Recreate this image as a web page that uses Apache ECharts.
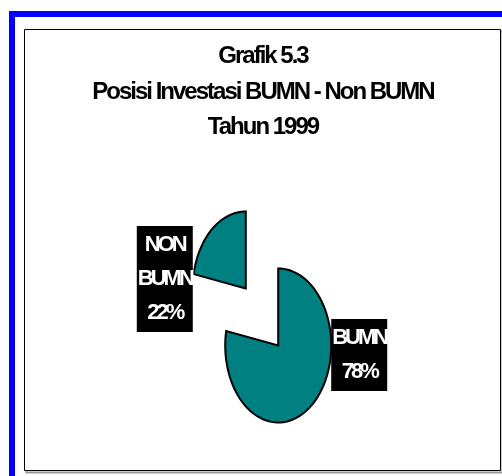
<!DOCTYPE html>
<html>
<head>
<meta charset="utf-8">
<script src="https://cdn.jsdelivr.net/npm/echarts@6/dist/echarts.min.js"></script>
<style>
  html, body { margin: 0; padding: 0; background: #fff; }
  #chart { width: 502px; height: 476px; }
</style>
</head>
<body>
<div id="chart"></div>
<script>
const titleLines = ['Grafik 5.3', 'Posisi Investasi BUMN - Non BUMN', 'Tahun 1999'];
const categories = ['BUMN', 'NON BUMN'];
const shares = [78, 22];

const FONT = "'Liberation Sans', Arial, sans-serif";
const TEAL = '#008080';
const EXPLODE = 0.48; // in radius units

// the original was typeset very tight, squeeze the glyphs together
(function () {
  const proto = CanvasRenderingContext2D.prototype;
  if (!('letterSpacing' in proto)) return;
  const fill = proto.fillText;
  const measure = proto.measureText;
  const spacing = f => !/bold/.test(f) ? '0px' : (/22px/.test(f) ? '-3px' : '-2px');
  proto.fillText = function (t, x, y, w) {
    this.letterSpacing = spacing(this.font);
    return w === undefined ? fill.call(this, t, x, y) : fill.call(this, t, x, y, w);
  };
  proto.measureText = function (t) {
    this.letterSpacing = spacing(this.font);
    return measure.call(this, t);
  };
})();

const total = shares.reduce((a, b) => a + b, 0);

function renderSlice(params, api) {
  const idx = params.dataIndex;
  let before = 0;
  for (let j = 0; j < idx; j++) before += shares[j];
  // clockwise from 12 o'clock
  const a0 = Math.PI / 2 - before / total * 2 * Math.PI;
  const a1 = Math.PI / 2 - (before + api.value(0)) / total * 2 * Math.PI;
  const mid = (a0 + a1) / 2;
  const cx = EXPLODE * Math.cos(mid);
  const cy = EXPLODE * Math.sin(mid);

  const pts = [api.coord([cx, cy])];
  const steps = 90;
  for (let k = 0; k <= steps; k++) {
    const a = a0 + (a1 - a0) * k / steps;
    pts.push(api.coord([cx + Math.cos(a), cy + Math.sin(a)]));
  }

  const right = Math.cos(mid) >= 0;
  const anchor = api.coord([cx + (right ? 1 : -1), cy + 0.16 * Math.sin(mid)]);
  const lines = categories[idx].split(' ').concat([api.value(0) + '%']);

  return {
    type: 'group',
    children: [
      {
        type: 'polygon',
        shape: { points: pts },
        style: { fill: TEAL, stroke: '#000', lineWidth: 2, lineJoin: 'miter' }
      },
      {
        type: 'text',
        x: anchor[0],
        y: anchor[1],
        style: {
          text: lines.map(s => '{t|' + s + '}').join('\n'),
          align: right ? 'left' : 'right',
          verticalAlign: 'middle',
          backgroundColor: '#000',
          padding: [2, 1],
          rich: {
            t: {
              align: 'center',
              fill: '#fff',
              fontFamily: FONT,
              fontWeight: 'bold',
              fontSize: 22,
              lineHeight: 34
            }
          }
        }
      }
    ]
  };
}

const chart = echarts.init(document.getElementById('chart'));

chart.setOption({
  backgroundColor: '#fff',
  animation: false,
  grid: { left: 156, top: 163, width: 212, height: 308 },
  xAxis: { type: 'value', min: -2, max: 2, show: false },
  yAxis: { type: 'value', min: -2, max: 2, show: false },
  graphic: [
    { type: 'rect', shape: { x: 9, y: 11, width: 6, height: 470 }, style: { fill: '#0000ff' } },
    { type: 'rect', shape: { x: 9, y: 11, width: 500, height: 6 }, style: { fill: '#0000ff' } },
    { type: 'rect', shape: { x: 26.5, y: 31.5, width: 476, height: 441 }, style: { fill: 'none', stroke: '#999', lineWidth: 2 } },
    { type: 'rect', shape: { x: 24.5, y: 29.5, width: 476, height: 441 }, style: { fill: '#fff', stroke: '#000', lineWidth: 1 } },
    {
      type: 'text',
      x: 263,
      y: 39,
      style: {
        text: titleLines.join('\n'),
        align: 'center',
        verticalAlign: 'top',
        fill: '#000',
        fontFamily: FONT,
        fontWeight: 'bold',
        fontSize: 24,
        lineHeight: 35.5
      }
    }
  ],
  series: [{
    type: 'custom',
    coordinateSystem: 'cartesian2d',
    renderItem: renderSlice,
    data: shares.map(v => [v]),
    z: 10
  }]
});
</script>
</body>
</html>
